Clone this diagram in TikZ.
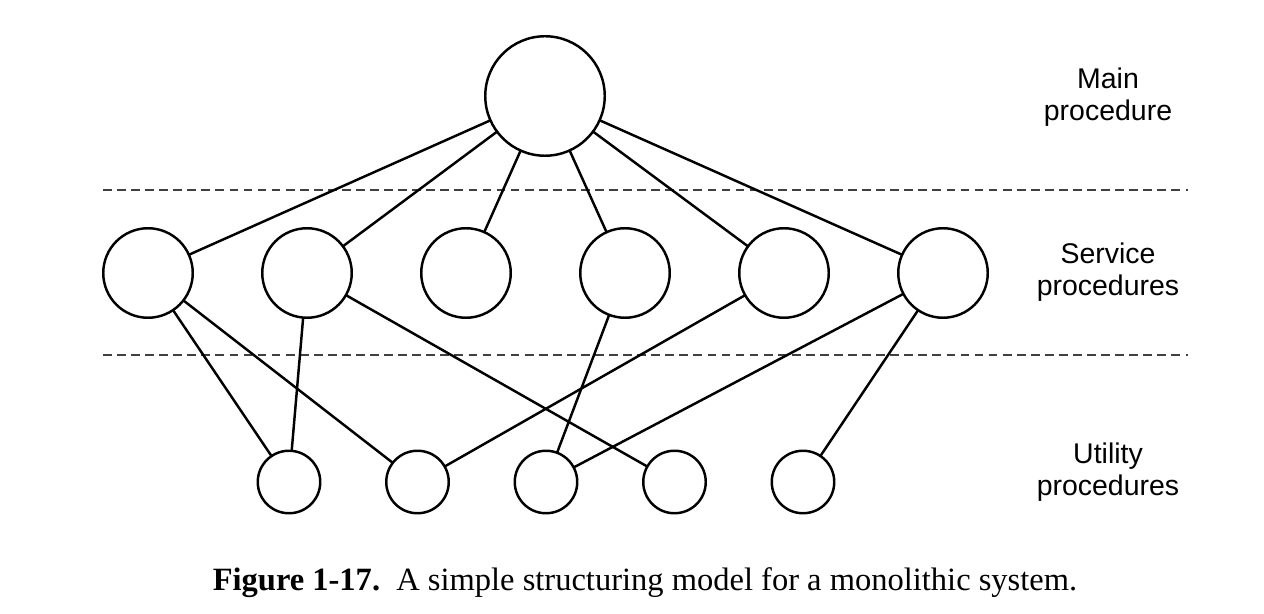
\documentclass[tikz,border=0pt]{standalone}
\usepackage{fontspec}
\setmainfont{Liberation Serif}
\setsansfont{Liberation Sans}
\usetikzlibrary{shapes.geometric}
\usetikzlibrary{arrows,calc}

\begin{document}
\begin{tikzpicture} [
       auto,
       proc/.style={circle, draw=black, line width=1.4pt, fill=white,
               inner sep=0pt, outer sep=0pt},
       mainproc/.style={proc, minimum size=2.39cm},
       service/.style={proc, minimum size=1.79cm},
       utility/.style={proc, minimum size=1.25cm},
       texte/.style={font=\sffamily\fontsize{16.2}{18.2}\selectfont, align=center},
       layer/.style={draw=black!75, dash pattern=on 5pt off 3pt, line width=0.8pt},
        line/.style     = { draw, line width=1.4pt },
       node distance=3.18cm,
       ]
       \useasboundingbox (0,0) rectangle (25.28,-12.28);
       % levels
       \node (main) [mainproc] at (10.9,-1.92) {};
       \node (s1) [service] at (2.96,-5.46) {};
       \node (s2) [service, right of = s1] {};
       \node (s3) [service, right of = s2] {};
       \node (s4) [service, right of = s3] {};
       \node (s5) [service, right of = s4] {};
       \node (s6) [service, right of = s5] {};
       \node (u1) [utility] at (5.78,-9.64) {};
       \node (u2) [utility, right of = u1, node distance=2.57cm] {};
       \node (u3) [utility, right of = u2, node distance=2.57cm] {};
       \node (u4) [utility, right of = u3, node distance=2.57cm] {};
       \node (u5) [utility, right of = u4, node distance=2.57cm] {};
       % separators
       \coordinate (d1a) at (2.06,-3.8);
       \coordinate (d1b) at (23.76,-3.8);
       \coordinate (d2a) at (2.06,-7.1);
       \coordinate (d2b) at (23.76,-7.1);
       \path[layer] (d1a) -- (d1b);
       \path[layer] (d2a) -- (d2b);
       % labels
       \node (lmain) [texte] at (22.16,-1.94) {Main\\procedure};
       \node (lserv) [texte] at (22.16,-5.44) {Service\\procedures};
       \node (lutil) [texte] at (22.16,-9.44) {Utility\\procedures};
       \node (caption) [font=\fontsize{18.5}{20}\selectfont] at (12.9,-11.66)
            {\textbf{Figure 1-17.}\ \ A simple structuring model for a monolithic system.};
        \begin{scope}[every path/.style=line]
        \foreach \s in {s1,s2,s3,s4,s5,s6}
            \path (main) -- (\s);
        \path (s1) -- (u1);
        \path (s1) -- (u2);
        \path (s2) -- (u1);
        \path (s2) -- (u4);
        \path (s4) -- (u3);
        \path (s5) -- (u2);
        \path (s6) -- (u3);
        \path (s6) -- (u5);
\end{scope}
\end{tikzpicture}
\end{document}
